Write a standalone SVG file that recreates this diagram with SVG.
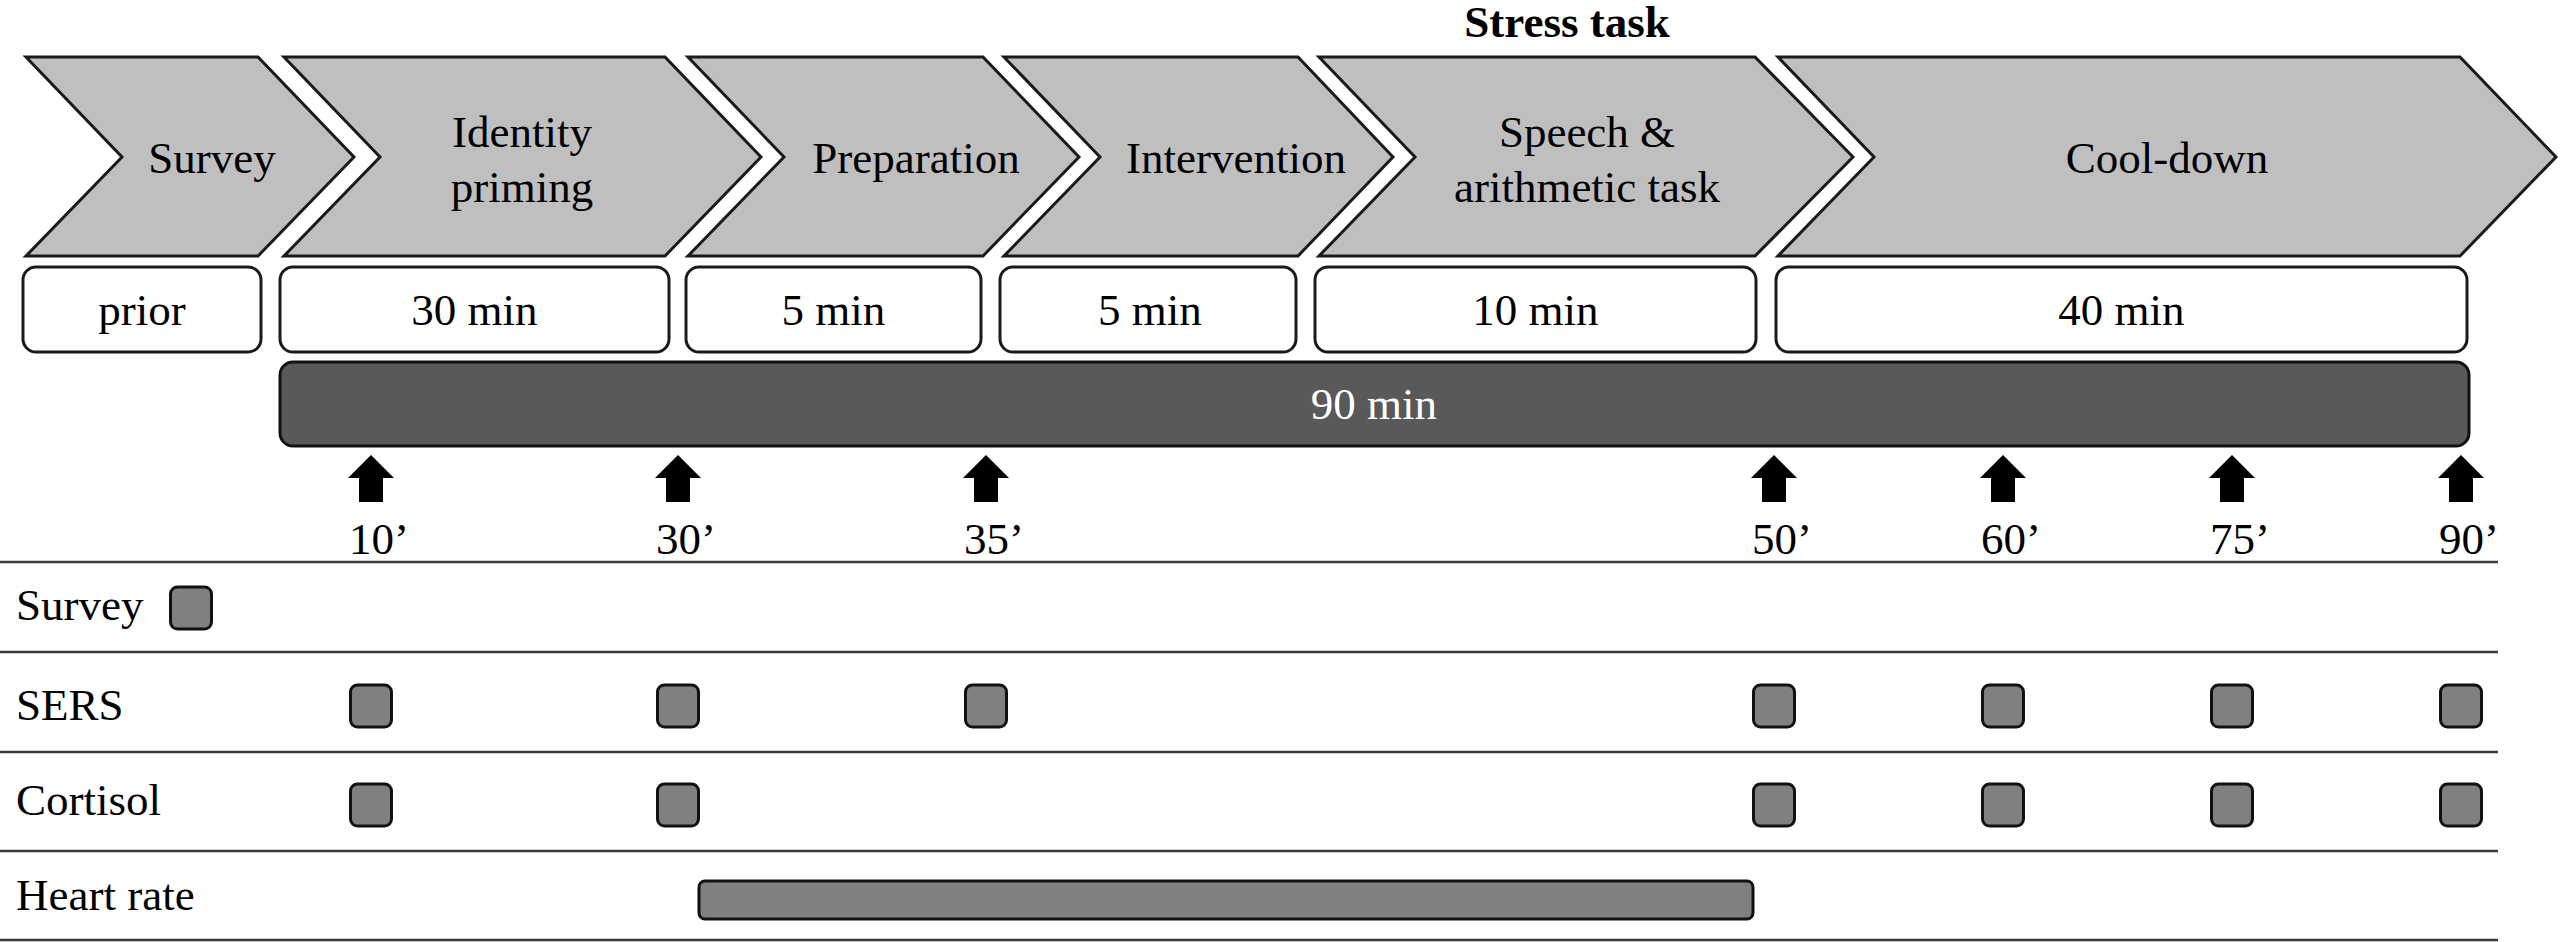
<svg xmlns="http://www.w3.org/2000/svg" xmlns:xlink="http://www.w3.org/1999/xlink" width="2560" height="942" viewBox="0 0 2560 942">
<style>
text{font-family:"Liberation Serif","Times New Roman",serif;font-size:45px;fill:#000}
.c{text-anchor:middle}
.b{font-weight:bold}
.w{fill:#fff}
.chev{fill:#bfbfbf;stroke:#1a1a1a;stroke-width:3;stroke-linejoin:miter}
.dur{fill:#fff;stroke:#1a1a1a;stroke-width:3}
.bar{fill:#595959;stroke:#111;stroke-width:3}
.mk{fill:#808080;stroke:#111;stroke-width:3}
.rule{stroke:#3a3a3a;stroke-width:2.5}
</style>
<defs>
<path id="arr" d="M0,455 L23,478 L12,478 L12,502 L-12,502 L-12,478 L-23,478 Z" fill="#000"/>
<rect id="sq" x="-20.5" y="0" width="41" height="42" rx="7" class="mk"/>
</defs>

<text id="stress-label" class="c b" x="1567" y="37">Stress task</text>

<g id="phase-survey">
<path class="chev" d="M26,57 L258,57 L354,157 L258,256 L26,256 L122,157 Z"/>
<text class="c" x="212" y="173">Survey</text>
</g>
<g id="phase-identity">
<path class="chev" d="M284,57 L665,57 L761,157 L665,256 L284,256 L380,157 Z"/>
<text class="c" x="522" y="147">Identity</text>
<text class="c" x="522" y="202">priming</text>
</g>
<g id="phase-preparation">
<path class="chev" d="M688,57 L983,57 L1079,157 L983,256 L688,256 L784,157 Z"/>
<text class="c" x="916" y="173">Preparation</text>
</g>
<g id="phase-intervention">
<path class="chev" d="M1004,57 L1298,57 L1393,157 L1298,256 L1004,256 L1100,157 Z"/>
<text class="c" x="1236" y="173">Intervention</text>
</g>
<g id="phase-speech">
<path class="chev" d="M1319,57 L1755,57 L1853,157 L1755,256 L1319,256 L1415,157 Z"/>
<text class="c" x="1587" y="147">Speech &amp;</text>
<text class="c" x="1587" y="202">arithmetic task</text>
</g>
<g id="phase-cooldown">
<path class="chev" d="M1778,57 L2460,57 L2556,157 L2460,256 L1778,256 L1874,157 Z"/>
<text class="c" x="2167" y="173">Cool-down</text>
</g>

<g id="dur-prior"><rect class="dur" x="23" y="267" width="238" height="85" rx="13"/><text class="c" x="142" y="325">prior</text></g>
<g id="dur-30"><rect class="dur" x="280" y="267" width="389" height="85" rx="13"/><text class="c" x="474.5" y="325">30 min</text></g>
<g id="dur-5a"><rect class="dur" x="686" y="267" width="295" height="85" rx="13"/><text class="c" x="833.5" y="325">5 min</text></g>
<g id="dur-5b"><rect class="dur" x="1000" y="267" width="296" height="85" rx="13"/><text class="c" x="1150" y="325">5 min</text></g>
<g id="dur-10"><rect class="dur" x="1315" y="267" width="441" height="85" rx="13"/><text class="c" x="1535.5" y="325">10 min</text></g>
<g id="dur-40"><rect class="dur" x="1776" y="267" width="691" height="85" rx="13"/><text class="c" x="2121.5" y="325">40 min</text></g>

<g id="total-90">
<rect class="bar" x="280" y="362" width="2189" height="84" rx="13"/>
<text class="c w" x="1374" y="419">90 min</text>
</g>

<g id="timepoints">
<use xlink:href="#arr" x="371"/><text x="349" y="554">10’</text>
<use xlink:href="#arr" x="678"/><text x="656" y="554">30’</text>
<use xlink:href="#arr" x="986"/><text x="964" y="554">35’</text>
<use xlink:href="#arr" x="1774"/><text x="1752" y="554">50’</text>
<use xlink:href="#arr" x="2003"/><text x="1981" y="554">60’</text>
<use xlink:href="#arr" x="2232"/><text x="2210" y="554">75’</text>
<use xlink:href="#arr" x="2461"/><text x="2439" y="554">90’</text>
</g>

<g id="rules">
<line class="rule" x1="0" y1="562" x2="2498" y2="562"/>
<line class="rule" x1="0" y1="652" x2="2498" y2="652"/>
<line class="rule" x1="0" y1="752" x2="2498" y2="752"/>
<line class="rule" x1="0" y1="851" x2="2498" y2="851"/>
<line class="rule" x1="0" y1="940" x2="2498" y2="940"/>
</g>

<g id="row-survey">
<text x="16" y="620">Survey</text>
<use xlink:href="#sq" x="191" y="587"/>
</g>
<g id="row-sers">
<text x="16" y="720">SERS</text>
<use xlink:href="#sq" x="371" y="685"/>
<use xlink:href="#sq" x="678" y="685"/>
<use xlink:href="#sq" x="986" y="685"/>
<use xlink:href="#sq" x="1774" y="685"/>
<use xlink:href="#sq" x="2003" y="685"/>
<use xlink:href="#sq" x="2232" y="685"/>
<use xlink:href="#sq" x="2461" y="685"/>
</g>
<g id="row-cortisol">
<text x="16" y="815">Cortisol</text>
<use xlink:href="#sq" x="371" y="784"/>
<use xlink:href="#sq" x="678" y="784"/>
<use xlink:href="#sq" x="1774" y="784"/>
<use xlink:href="#sq" x="2003" y="784"/>
<use xlink:href="#sq" x="2232" y="784"/>
<use xlink:href="#sq" x="2461" y="784"/>
</g>
<g id="row-heartrate">
<text x="16" y="910">Heart rate</text>
<rect class="mk" x="699" y="881" width="1054" height="38" rx="6"/>
</g>
</svg>
